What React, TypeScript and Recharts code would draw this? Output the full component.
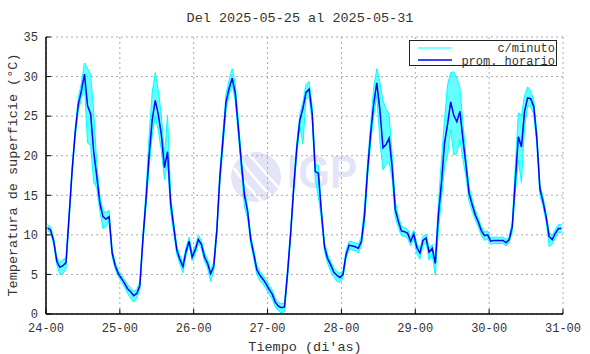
import React from 'react';
import { ComposedChart, Line, Area, XAxis, YAxis, CartesianGrid } from 'recharts';

const FONT = '"Liberation Mono", "Courier New", monospace';

// x axis: days since 24-00
const dayTicks = [0, 1, 2, 3, 4, 5, 6, 7];
const tickLabels = ['24-00', '25-00', '26-00', '27-00', '28-00', '29-00', '30-00', '31-00'];
const tempTicks = [0, 5, 10, 15, 20, 25, 30, 35];

// hourly mean (prom. horario), one value per hour, centred on the half hour
const promHorario = [
  // 24
  10.9, 10.6, 9.2, 6.7, 5.9, 6.1, 6.5, 12.3, 18.2, 23.0, 26.5, 28.2, 30.3, 26.3, 25.3, 20.5, 17.4, 14.0, 12.3, 12.0, 12.3, 7.7, 6.1, 5.1,
  // 25
  4.5, 3.9, 3.2, 2.8, 2.3, 2.6, 3.6, 9.5, 14.5, 20.0, 24.5, 27.0, 25.2, 22.6, 18.5, 20.5, 14.0, 11.0, 8.1, 6.9, 6.0, 7.9, 9.2, 7.2,
  // 26
  8.1, 9.4, 8.8, 7.2, 6.4, 5.1, 6.0, 10.5, 17.3, 22.0, 26.8, 28.5, 29.8, 27.9, 23.5, 19.0, 15.0, 13.0, 9.5, 7.6, 5.6, 4.9, 4.4, 3.8,
  // 27
  3.1, 2.5, 1.5, 1.0, 0.8, 0.9, 5.2, 10.2, 16.0, 21.0, 24.5, 26.0, 28.0, 28.4, 25.3, 18.0, 17.8, 12.8, 8.5, 7.0, 6.2, 5.3, 4.9, 4.6,
  // 28
  5.0, 7.5, 8.7, 8.6, 8.5, 8.3, 9.2, 12.5, 18.2, 22.8, 26.6, 29.2, 25.8, 21.0, 21.4, 22.2, 18.5, 13.2, 11.7, 10.5, 10.4, 10.2, 9.2, 10.1,
  // 29
  8.4, 7.7, 9.3, 9.6, 7.8, 8.3, 6.4, 12.5, 16.5, 21.6, 24.0, 26.8, 25.1, 24.3, 25.6, 22.0, 18.7, 15.2, 13.8, 12.5, 11.6, 10.5, 9.9, 10.0,
  // 30
  9.2, 9.3, 9.3, 9.3, 9.3, 9.0, 9.4, 11.0, 16.8, 22.4, 21.1, 25.6, 27.3, 27.2, 26.2, 22.2, 15.8, 14.2, 12.3, 9.8, 9.4, 10.2, 10.8, 10.8,
];

// how far the per-minute readings (c/minuto) go above / below the hourly mean
const spreadUp = [
  0.4, 0.4, 0.4, 0.5, 0.6, 0.8, 0.6, 0.5, 0.5, 0.6, 0.8, 1, 1.4, 4.7, 5, 5, 1.5, 1, 0.8, 0.8, 0.8, 0.5, 0.4, 0.4,
  0.4, 0.4, 0.5, 0.5, 0.5, 0.5, 0.5, 0.6, 1, 2.5, 3.5, 3.5, 3, 2.5, 1.5, 4.6, 1, 0.6, 0.5, 0.5, 0.5, 0.5, 0.5, 0.5,
  0.5, 0.5, 0.5, 0.5, 0.5, 0.5, 0.5, 0.6, 0.8, 1, 1, 1, 1.2, 1.2, 1, 0.8, 0.6, 0.6, 0.5, 0.5, 0.5, 0.5, 0.5, 0.5,
  0.5, 0.5, 0.5, 0.5, 0.5, 0.5, 0.6, 0.6, 0.6, 0.8, 0.8, 0.8, 1, 1, 1, 1, 1, 0.6, 0.5, 0.5, 0.5, 0.5, 0.5, 0.5,
  0.5, 0.5, 0.5, 0.5, 0.5, 0.5, 0.6, 1, 1, 1.2, 2, 1.8, 3.5, 6, 4.5, 3, 1.5, 1, 0.6, 0.6, 0.5, 0.5, 0.5, 0.5,
  0.5, 0.5, 0.5, 0.5, 0.5, 0.5, 0.6, 1.5, 3, 3, 5, 3.7, 5.5, 5.5, 3, 2, 1, 0.8, 0.6, 0.6, 0.5, 0.5, 0.5, 0.5,
  0.4, 0.4, 0.4, 0.4, 0.4, 0.4, 0.4, 0.6, 2, 3, 4, 2, 1.4, 1, 0.8, 0.8, 0.6, 0.6, 0.5, 0.5, 0.5, 0.5, 0.5, 0.5,
];
const spreadDown = [
  0.4, 0.4, 0.4, 0.5, 0.9, 1, 0.8, 0.5, 0.5, 0.6, 0.8, 1, 1.5, 4.7, 4, 3.8, 1.5, 1, 1.5, 1, 0.6, 0.5, 0.4, 0.4,
  0.4, 0.5, 0.6, 0.8, 0.8, 0.6, 0.5, 0.6, 1, 1.5, 2, 2, 2, 2, 1.5, 1.5, 1, 0.8, 0.6, 0.6, 0.8, 0.5, 0.5, 0.5,
  0.5, 0.5, 0.5, 0.5, 0.6, 1, 0.6, 0.6, 0.8, 1, 1, 0.8, 0.8, 1, 1, 1, 1.5, 0.8, 0.6, 0.6, 0.6, 0.7, 0.6, 0.6,
  0.6, 0.6, 0.6, 0.6, 0.7, 0.6, 0.6, 0.6, 0.6, 0.8, 0.8, 4.5, 0.8, 1, 1, 1, 3, 0.8, 0.6, 0.6, 0.8, 0.6, 0.8, 0.6,
  0.5, 0.5, 0.5, 0.5, 0.5, 0.6, 0.6, 1, 1, 1.2, 1.5, 1.5, 4, 2.8, 2.5, 3, 1.5, 1, 0.8, 0.6, 0.6, 0.6, 0.6, 0.5,
  0.8, 0.8, 0.6, 0.6, 1, 0.8, 1.5, 2, 2, 3, 4, 3.5, 5, 4, 3.5, 2.5, 1.5, 1, 0.8, 0.6, 0.6, 0.6, 0.6, 0.5,
  0.4, 0.4, 0.4, 0.4, 0.4, 0.4, 0.4, 0.6, 1.5, 3, 4.5, 2, 1, 1, 1, 0.8, 0.8, 0.6, 0.6, 1.3, 0.6, 0.6, 0.5, 0.5,
];

const data = promHorario.map((v, i) => ({
  t: (i + 0.5) / 24,
  prom: v,
  minuto: [v - spreadDown[i], v + spreadUp[i]],
}));

const tickStyle = { fontFamily: FONT, fontSize: 12, fill: '#333' };
const frame = { stroke: '#000', strokeWidth: 1.5 };

const Watermark = () => (
  <svg width={590} height={354} style={{ position: 'absolute', left: 0, top: 0 }}>
    <circle cx={256} cy={177} r={25} fill="#e3e5f7" />
    <path d="M 234 168 Q 246 186 262 201" stroke="#fff" strokeWidth={2.5} fill="none" />
    <path d="M 240 159 Q 255 180 272 197" stroke="#fff" strokeWidth={2.5} fill="none" />
    <path d="M 248 153 Q 264 172 279 188" stroke="#fff" strokeWidth={2.5} fill="none" />
    <text x={287} y={188} fontFamily='"Liberation Sans", Arial, sans-serif' fontWeight="bold" fontSize={46}
      fill="#e3e5f7" textLength={70} lengthAdjust="spacingAndGlyphs">IGP</text>
  </svg>
);

const Overlay = () => (
  <svg width={590} height={354} style={{ position: 'absolute', left: 0, top: 0, pointerEvents: 'none' }}>
    <text x={300} y={22} textAnchor="middle" fontFamily={FONT} fontSize={13.5} fill="#333">
      Del 2025-05-25 al 2025-05-31
    </text>
    <text x={305} y={351} textAnchor="middle" fontFamily={FONT} fontSize={13.5} fill="#333">
      Tiempo (di'as)
    </text>
    <text x={13} y={175} textAnchor="middle" dominantBaseline="central" transform="rotate(-90 13 175)"
      fontFamily={FONT} fontSize={13.5} fill="#333">
      Temperatura de superficie (°C)
    </text>
    {/* legend */}
    <rect x={409.5} y={40.5} width={147} height={25} fill="#fff" stroke="#222" strokeWidth={1} />
    <line x1={418} x2={452} y1={48} y2={48} stroke="#00ffff" strokeWidth={1} />
    <line x1={418} x2={452} y1={60} y2={60} stroke="#0000ff" strokeWidth={1.5} />
    <text x={555} y={52} textAnchor="end" fontFamily={FONT} fontSize={12} fill="#333">c/minuto</text>
    <text x={555} y={64.5} textAnchor="end" fontFamily={FONT} fontSize={12} fill="#333">prom. horario</text>
  </svg>
);

export default function App() {
  return (
    <div style={{ position: 'absolute', left: 0, top: 0, width: 590, height: 354, background: '#fff' }}>
      <Watermark />
      <div style={{ position: 'absolute', left: 0, top: 0 }}>
        <ComposedChart width={590} height={354} data={data} margin={{ top: 37, right: 27, bottom: 0, left: 0 }}>
          <CartesianGrid stroke="#aaa" strokeDasharray="2 3" />
          <XAxis dataKey="t" type="number" domain={[0, 7]} ticks={dayTicks} interval={0}
            tickFormatter={(v: number) => tickLabels[v]} height={40} tickSize={-5} tickMargin={14}
            tick={tickStyle} axisLine={frame} tickLine={{ stroke: '#000' }} />
          <XAxis xAxisId="top" orientation="top" type="number" domain={[0, 7]} ticks={dayTicks} interval={0}
            height={0} tickSize={-5} tick={false} axisLine={frame} tickLine={{ stroke: '#000' }} />
          <YAxis type="number" domain={[0, 35]} ticks={tempTicks} interval={0} width={46}
            tickSize={-5} tickMargin={13} tick={tickStyle} axisLine={frame} tickLine={{ stroke: '#000' }} />
          <YAxis yAxisId="right" orientation="right" type="number" domain={[0, 35]} ticks={tempTicks} interval={0}
            width={0} tickSize={-5} tick={false} axisLine={{ stroke: '#000', strokeWidth: 2 }} tickLine={{ stroke: '#000' }} />
          <Area dataKey="minuto" type="linear" stroke="#00ffff" strokeWidth={1} fill="#00ffff" fillOpacity={0.6}
            isAnimationActive={false} dot={false} activeDot={false} />
          <Line dataKey="prom" type="linear" stroke="#0000ff" strokeWidth={1.5} dot={false} activeDot={false}
            isAnimationActive={false} />
        </ComposedChart>
      </div>
      <Overlay />
    </div>
  );
}
